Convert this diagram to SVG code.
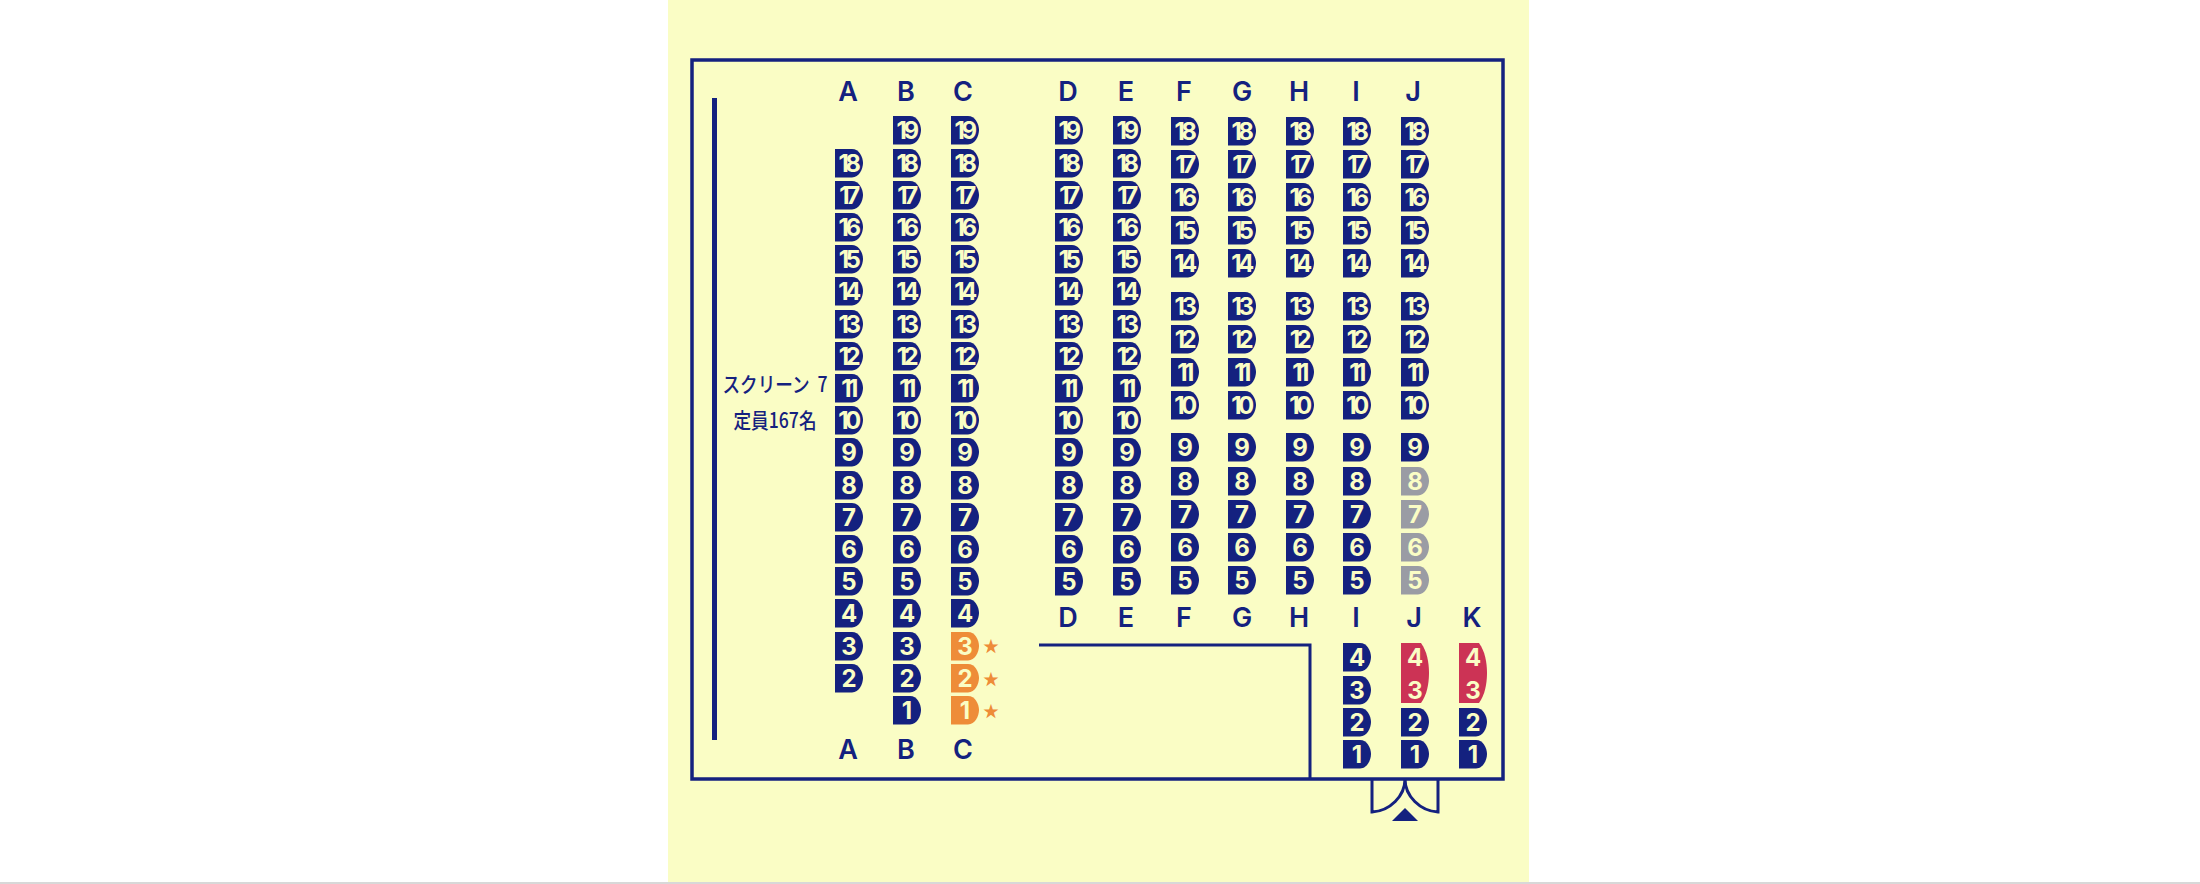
<svg xmlns="http://www.w3.org/2000/svg" xmlns:xlink="http://www.w3.org/1999/xlink" width="2200" height="884" viewBox="0 0 2200 884">
<style>
.l{font-family:"Inter","Liberation Sans",sans-serif;font-size:27px;font-weight:600;fill:#14217f;text-anchor:middle}
text.n{font-family:"Inter","Liberation Sans",sans-serif;font-size:24px;font-weight:700;fill:#fafdc5;text-anchor:middle}
text.d{letter-spacing:-3.5px}
.s{fill:#14217f}.o{fill:#ee8c38}.g{fill:#9a9ca4}.r{fill:#cc3355}
.t{font-family:"Noto Sans CJK JP",sans-serif;font-size:21px;font-weight:500;fill:#14217f;text-anchor:middle}
.st{font-family:"Noto Sans CJK JP",sans-serif;font-size:16px;fill:#ee8c38;text-anchor:middle}
.w{fill:none;stroke:#14217f;stroke-width:3}
</style>
<defs><path id="p" d="M0 0H17C24 0 28 8 28 14C28 20 24 28.500 17 28.500H0Z"/><path id="q" d="M0 0H20C26 8 28 20 28 30C28 40 26 52 20 60H0Z"/></defs>
<rect x="668" y="0" width="861" height="882" fill="#fafdc5"/>
<rect x="0" y="882" width="2200" height="2" fill="#d8d8d8"/>
<g id="room"><rect class="w" style="stroke-width:3.5" x="692" y="60" width="811" height="719"/><rect x="712" y="98" width="5" height="642" fill="#14217f"/>
<path class="w" d="M1039 645H1310V779"/>
<path class="w" d="M1372 779V812C1390 811 1405 796 1405 779C1405 796 1420 811 1438 812V779"/>
<polygon points="1405,808 1418,821 1392,821" fill="#14217f"/></g>
<g id="screen"><text class="t" transform="translate(775 392) scale(.84 1)" xml:space="preserve">スクリーン  7</text>
<text class="t" transform="translate(775 428) scale(.84 1)">定員167名</text></g>
<g id="labels">
<text class="l" x="848" y="101">A</text><text class="l" x="906" y="101">B</text><text class="l" x="963" y="101">C</text><text class="l" x="1068" y="101">D</text><text class="l" x="1126" y="101">E</text><text class="l" x="1184" y="101">F</text><text class="l" x="1242" y="101">G</text><text class="l" x="1299" y="101">H</text><text class="l" x="1356" y="101">I</text><text class="l" x="1413" y="101">J</text>
<text class="l" x="1068" y="627">D</text><text class="l" x="1126" y="627">E</text><text class="l" x="1184" y="627">F</text><text class="l" x="1242" y="627">G</text><text class="l" x="1299" y="627">H</text><text class="l" x="1356" y="627">I</text><text class="l" x="1414" y="627">J</text><text class="l" x="1472" y="627">K</text>
<text class="l" x="848" y="759">A</text><text class="l" x="906" y="759">B</text><text class="l" x="963" y="759">C</text>
</g>
<g id="stars"><text class="st" x="991" y="652">★</text><text class="st" x="991" y="685">★</text><text class="st" x="991" y="717">★</text></g>
<g id="colA">
<g id="A18" transform="translate(835 149)"><use href="#p" class="s"/><text class="n d" x="13" y="23">18</text></g>
<g id="A17" transform="translate(835 181)"><use href="#p" class="s"/><text class="n d" x="13" y="23">17</text></g>
<g id="A16" transform="translate(835 213)"><use href="#p" class="s"/><text class="n d" x="13" y="23">16</text></g>
<g id="A15" transform="translate(835 245)"><use href="#p" class="s"/><text class="n d" x="13" y="23">15</text></g>
<g id="A14" transform="translate(835 277)"><use href="#p" class="s"/><text class="n d" x="13" y="23">14</text></g>
<g id="A13" transform="translate(835 310)"><use href="#p" class="s"/><text class="n d" x="13" y="23">13</text></g>
<g id="A12" transform="translate(835 342)"><use href="#p" class="s"/><text class="n d" x="13" y="23">12</text></g>
<g id="A11" transform="translate(835 374)"><use href="#p" class="s"/><text class="n d" x="13" y="23">11</text></g>
<g id="A10" transform="translate(835 406)"><use href="#p" class="s"/><text class="n d" x="13" y="23">10</text></g>
<g id="A9" transform="translate(835 438)"><use href="#p" class="s"/><text class="n" x="14" y="23">9</text></g>
<g id="A8" transform="translate(835 471)"><use href="#p" class="s"/><text class="n" x="14" y="23">8</text></g>
<g id="A7" transform="translate(835 503)"><use href="#p" class="s"/><text class="n" x="14" y="23">7</text></g>
<g id="A6" transform="translate(835 535)"><use href="#p" class="s"/><text class="n" x="14" y="23">6</text></g>
<g id="A5" transform="translate(835 567)"><use href="#p" class="s"/><text class="n" x="14" y="23">5</text></g>
<g id="A4" transform="translate(835 599)"><use href="#p" class="s"/><text class="n" x="14" y="23">4</text></g>
<g id="A3" transform="translate(835 632)"><use href="#p" class="s"/><text class="n" x="14" y="23">3</text></g>
<g id="A2" transform="translate(835 664)"><use href="#p" class="s"/><text class="n" x="14" y="23">2</text></g>
</g>
<g id="colB">
<g id="B19" transform="translate(893 116)"><use href="#p" class="s"/><text class="n d" x="13" y="23">19</text></g>
<g id="B18" transform="translate(893 149)"><use href="#p" class="s"/><text class="n d" x="13" y="23">18</text></g>
<g id="B17" transform="translate(893 181)"><use href="#p" class="s"/><text class="n d" x="13" y="23">17</text></g>
<g id="B16" transform="translate(893 213)"><use href="#p" class="s"/><text class="n d" x="13" y="23">16</text></g>
<g id="B15" transform="translate(893 245)"><use href="#p" class="s"/><text class="n d" x="13" y="23">15</text></g>
<g id="B14" transform="translate(893 277)"><use href="#p" class="s"/><text class="n d" x="13" y="23">14</text></g>
<g id="B13" transform="translate(893 310)"><use href="#p" class="s"/><text class="n d" x="13" y="23">13</text></g>
<g id="B12" transform="translate(893 342)"><use href="#p" class="s"/><text class="n d" x="13" y="23">12</text></g>
<g id="B11" transform="translate(893 374)"><use href="#p" class="s"/><text class="n d" x="13" y="23">11</text></g>
<g id="B10" transform="translate(893 406)"><use href="#p" class="s"/><text class="n d" x="13" y="23">10</text></g>
<g id="B9" transform="translate(893 438)"><use href="#p" class="s"/><text class="n" x="14" y="23">9</text></g>
<g id="B8" transform="translate(893 471)"><use href="#p" class="s"/><text class="n" x="14" y="23">8</text></g>
<g id="B7" transform="translate(893 503)"><use href="#p" class="s"/><text class="n" x="14" y="23">7</text></g>
<g id="B6" transform="translate(893 535)"><use href="#p" class="s"/><text class="n" x="14" y="23">6</text></g>
<g id="B5" transform="translate(893 567)"><use href="#p" class="s"/><text class="n" x="14" y="23">5</text></g>
<g id="B4" transform="translate(893 599)"><use href="#p" class="s"/><text class="n" x="14" y="23">4</text></g>
<g id="B3" transform="translate(893 632)"><use href="#p" class="s"/><text class="n" x="14" y="23">3</text></g>
<g id="B2" transform="translate(893 664)"><use href="#p" class="s"/><text class="n" x="14" y="23">2</text></g>
<g id="B1" transform="translate(893 696)"><use href="#p" class="s"/><text class="n" x="14" y="23">1</text></g>
</g>
<g id="colC">
<g id="C19" transform="translate(951 116)"><use href="#p" class="s"/><text class="n d" x="13" y="23">19</text></g>
<g id="C18" transform="translate(951 149)"><use href="#p" class="s"/><text class="n d" x="13" y="23">18</text></g>
<g id="C17" transform="translate(951 181)"><use href="#p" class="s"/><text class="n d" x="13" y="23">17</text></g>
<g id="C16" transform="translate(951 213)"><use href="#p" class="s"/><text class="n d" x="13" y="23">16</text></g>
<g id="C15" transform="translate(951 245)"><use href="#p" class="s"/><text class="n d" x="13" y="23">15</text></g>
<g id="C14" transform="translate(951 277)"><use href="#p" class="s"/><text class="n d" x="13" y="23">14</text></g>
<g id="C13" transform="translate(951 310)"><use href="#p" class="s"/><text class="n d" x="13" y="23">13</text></g>
<g id="C12" transform="translate(951 342)"><use href="#p" class="s"/><text class="n d" x="13" y="23">12</text></g>
<g id="C11" transform="translate(951 374)"><use href="#p" class="s"/><text class="n d" x="13" y="23">11</text></g>
<g id="C10" transform="translate(951 406)"><use href="#p" class="s"/><text class="n d" x="13" y="23">10</text></g>
<g id="C9" transform="translate(951 438)"><use href="#p" class="s"/><text class="n" x="14" y="23">9</text></g>
<g id="C8" transform="translate(951 471)"><use href="#p" class="s"/><text class="n" x="14" y="23">8</text></g>
<g id="C7" transform="translate(951 503)"><use href="#p" class="s"/><text class="n" x="14" y="23">7</text></g>
<g id="C6" transform="translate(951 535)"><use href="#p" class="s"/><text class="n" x="14" y="23">6</text></g>
<g id="C5" transform="translate(951 567)"><use href="#p" class="s"/><text class="n" x="14" y="23">5</text></g>
<g id="C4" transform="translate(951 599)"><use href="#p" class="s"/><text class="n" x="14" y="23">4</text></g>
<g id="C3" transform="translate(951 632)"><use href="#p" class="o"/><text class="n" x="14" y="23">3</text></g>
<g id="C2" transform="translate(951 664)"><use href="#p" class="o"/><text class="n" x="14" y="23">2</text></g>
<g id="C1" transform="translate(951 696)"><use href="#p" class="o"/><text class="n" x="14" y="23">1</text></g>
</g>
<g id="colD">
<g id="D19" transform="translate(1055 116)"><use href="#p" class="s"/><text class="n d" x="13" y="23">19</text></g>
<g id="D18" transform="translate(1055 149)"><use href="#p" class="s"/><text class="n d" x="13" y="23">18</text></g>
<g id="D17" transform="translate(1055 181)"><use href="#p" class="s"/><text class="n d" x="13" y="23">17</text></g>
<g id="D16" transform="translate(1055 213)"><use href="#p" class="s"/><text class="n d" x="13" y="23">16</text></g>
<g id="D15" transform="translate(1055 245)"><use href="#p" class="s"/><text class="n d" x="13" y="23">15</text></g>
<g id="D14" transform="translate(1055 277)"><use href="#p" class="s"/><text class="n d" x="13" y="23">14</text></g>
<g id="D13" transform="translate(1055 310)"><use href="#p" class="s"/><text class="n d" x="13" y="23">13</text></g>
<g id="D12" transform="translate(1055 342)"><use href="#p" class="s"/><text class="n d" x="13" y="23">12</text></g>
<g id="D11" transform="translate(1055 374)"><use href="#p" class="s"/><text class="n d" x="13" y="23">11</text></g>
<g id="D10" transform="translate(1055 406)"><use href="#p" class="s"/><text class="n d" x="13" y="23">10</text></g>
<g id="D9" transform="translate(1055 438)"><use href="#p" class="s"/><text class="n" x="14" y="23">9</text></g>
<g id="D8" transform="translate(1055 471)"><use href="#p" class="s"/><text class="n" x="14" y="23">8</text></g>
<g id="D7" transform="translate(1055 503)"><use href="#p" class="s"/><text class="n" x="14" y="23">7</text></g>
<g id="D6" transform="translate(1055 535)"><use href="#p" class="s"/><text class="n" x="14" y="23">6</text></g>
<g id="D5" transform="translate(1055 567)"><use href="#p" class="s"/><text class="n" x="14" y="23">5</text></g>
</g>
<g id="colE">
<g id="E19" transform="translate(1113 116)"><use href="#p" class="s"/><text class="n d" x="13" y="23">19</text></g>
<g id="E18" transform="translate(1113 149)"><use href="#p" class="s"/><text class="n d" x="13" y="23">18</text></g>
<g id="E17" transform="translate(1113 181)"><use href="#p" class="s"/><text class="n d" x="13" y="23">17</text></g>
<g id="E16" transform="translate(1113 213)"><use href="#p" class="s"/><text class="n d" x="13" y="23">16</text></g>
<g id="E15" transform="translate(1113 245)"><use href="#p" class="s"/><text class="n d" x="13" y="23">15</text></g>
<g id="E14" transform="translate(1113 277)"><use href="#p" class="s"/><text class="n d" x="13" y="23">14</text></g>
<g id="E13" transform="translate(1113 310)"><use href="#p" class="s"/><text class="n d" x="13" y="23">13</text></g>
<g id="E12" transform="translate(1113 342)"><use href="#p" class="s"/><text class="n d" x="13" y="23">12</text></g>
<g id="E11" transform="translate(1113 374)"><use href="#p" class="s"/><text class="n d" x="13" y="23">11</text></g>
<g id="E10" transform="translate(1113 406)"><use href="#p" class="s"/><text class="n d" x="13" y="23">10</text></g>
<g id="E9" transform="translate(1113 438)"><use href="#p" class="s"/><text class="n" x="14" y="23">9</text></g>
<g id="E8" transform="translate(1113 471)"><use href="#p" class="s"/><text class="n" x="14" y="23">8</text></g>
<g id="E7" transform="translate(1113 503)"><use href="#p" class="s"/><text class="n" x="14" y="23">7</text></g>
<g id="E6" transform="translate(1113 535)"><use href="#p" class="s"/><text class="n" x="14" y="23">6</text></g>
<g id="E5" transform="translate(1113 567)"><use href="#p" class="s"/><text class="n" x="14" y="23">5</text></g>
</g>
<g id="colF">
<g id="F18" transform="translate(1171 117)"><use href="#p" class="s"/><text class="n d" x="13" y="23">18</text></g>
<g id="F17" transform="translate(1171 150)"><use href="#p" class="s"/><text class="n d" x="13" y="23">17</text></g>
<g id="F16" transform="translate(1171 183)"><use href="#p" class="s"/><text class="n d" x="13" y="23">16</text></g>
<g id="F15" transform="translate(1171 216)"><use href="#p" class="s"/><text class="n d" x="13" y="23">15</text></g>
<g id="F14" transform="translate(1171 249)"><use href="#p" class="s"/><text class="n d" x="13" y="23">14</text></g>
<g id="F13" transform="translate(1171 292)"><use href="#p" class="s"/><text class="n d" x="13" y="23">13</text></g>
<g id="F12" transform="translate(1171 325)"><use href="#p" class="s"/><text class="n d" x="13" y="23">12</text></g>
<g id="F11" transform="translate(1171 358)"><use href="#p" class="s"/><text class="n d" x="13" y="23">11</text></g>
<g id="F10" transform="translate(1171 391)"><use href="#p" class="s"/><text class="n d" x="13" y="23">10</text></g>
<g id="F9" transform="translate(1171 433)"><use href="#p" class="s"/><text class="n" x="14" y="23">9</text></g>
<g id="F8" transform="translate(1171 467)"><use href="#p" class="s"/><text class="n" x="14" y="23">8</text></g>
<g id="F7" transform="translate(1171 500)"><use href="#p" class="s"/><text class="n" x="14" y="23">7</text></g>
<g id="F6" transform="translate(1171 533)"><use href="#p" class="s"/><text class="n" x="14" y="23">6</text></g>
<g id="F5" transform="translate(1171 566)"><use href="#p" class="s"/><text class="n" x="14" y="23">5</text></g>
</g>
<g id="colG">
<g id="G18" transform="translate(1228 117)"><use href="#p" class="s"/><text class="n d" x="13" y="23">18</text></g>
<g id="G17" transform="translate(1228 150)"><use href="#p" class="s"/><text class="n d" x="13" y="23">17</text></g>
<g id="G16" transform="translate(1228 183)"><use href="#p" class="s"/><text class="n d" x="13" y="23">16</text></g>
<g id="G15" transform="translate(1228 216)"><use href="#p" class="s"/><text class="n d" x="13" y="23">15</text></g>
<g id="G14" transform="translate(1228 249)"><use href="#p" class="s"/><text class="n d" x="13" y="23">14</text></g>
<g id="G13" transform="translate(1228 292)"><use href="#p" class="s"/><text class="n d" x="13" y="23">13</text></g>
<g id="G12" transform="translate(1228 325)"><use href="#p" class="s"/><text class="n d" x="13" y="23">12</text></g>
<g id="G11" transform="translate(1228 358)"><use href="#p" class="s"/><text class="n d" x="13" y="23">11</text></g>
<g id="G10" transform="translate(1228 391)"><use href="#p" class="s"/><text class="n d" x="13" y="23">10</text></g>
<g id="G9" transform="translate(1228 433)"><use href="#p" class="s"/><text class="n" x="14" y="23">9</text></g>
<g id="G8" transform="translate(1228 467)"><use href="#p" class="s"/><text class="n" x="14" y="23">8</text></g>
<g id="G7" transform="translate(1228 500)"><use href="#p" class="s"/><text class="n" x="14" y="23">7</text></g>
<g id="G6" transform="translate(1228 533)"><use href="#p" class="s"/><text class="n" x="14" y="23">6</text></g>
<g id="G5" transform="translate(1228 566)"><use href="#p" class="s"/><text class="n" x="14" y="23">5</text></g>
</g>
<g id="colH">
<g id="H18" transform="translate(1286 117)"><use href="#p" class="s"/><text class="n d" x="13" y="23">18</text></g>
<g id="H17" transform="translate(1286 150)"><use href="#p" class="s"/><text class="n d" x="13" y="23">17</text></g>
<g id="H16" transform="translate(1286 183)"><use href="#p" class="s"/><text class="n d" x="13" y="23">16</text></g>
<g id="H15" transform="translate(1286 216)"><use href="#p" class="s"/><text class="n d" x="13" y="23">15</text></g>
<g id="H14" transform="translate(1286 249)"><use href="#p" class="s"/><text class="n d" x="13" y="23">14</text></g>
<g id="H13" transform="translate(1286 292)"><use href="#p" class="s"/><text class="n d" x="13" y="23">13</text></g>
<g id="H12" transform="translate(1286 325)"><use href="#p" class="s"/><text class="n d" x="13" y="23">12</text></g>
<g id="H11" transform="translate(1286 358)"><use href="#p" class="s"/><text class="n d" x="13" y="23">11</text></g>
<g id="H10" transform="translate(1286 391)"><use href="#p" class="s"/><text class="n d" x="13" y="23">10</text></g>
<g id="H9" transform="translate(1286 433)"><use href="#p" class="s"/><text class="n" x="14" y="23">9</text></g>
<g id="H8" transform="translate(1286 467)"><use href="#p" class="s"/><text class="n" x="14" y="23">8</text></g>
<g id="H7" transform="translate(1286 500)"><use href="#p" class="s"/><text class="n" x="14" y="23">7</text></g>
<g id="H6" transform="translate(1286 533)"><use href="#p" class="s"/><text class="n" x="14" y="23">6</text></g>
<g id="H5" transform="translate(1286 566)"><use href="#p" class="s"/><text class="n" x="14" y="23">5</text></g>
</g>
<g id="colI">
<g id="I18" transform="translate(1343 117)"><use href="#p" class="s"/><text class="n d" x="13" y="23">18</text></g>
<g id="I17" transform="translate(1343 150)"><use href="#p" class="s"/><text class="n d" x="13" y="23">17</text></g>
<g id="I16" transform="translate(1343 183)"><use href="#p" class="s"/><text class="n d" x="13" y="23">16</text></g>
<g id="I15" transform="translate(1343 216)"><use href="#p" class="s"/><text class="n d" x="13" y="23">15</text></g>
<g id="I14" transform="translate(1343 249)"><use href="#p" class="s"/><text class="n d" x="13" y="23">14</text></g>
<g id="I13" transform="translate(1343 292)"><use href="#p" class="s"/><text class="n d" x="13" y="23">13</text></g>
<g id="I12" transform="translate(1343 325)"><use href="#p" class="s"/><text class="n d" x="13" y="23">12</text></g>
<g id="I11" transform="translate(1343 358)"><use href="#p" class="s"/><text class="n d" x="13" y="23">11</text></g>
<g id="I10" transform="translate(1343 391)"><use href="#p" class="s"/><text class="n d" x="13" y="23">10</text></g>
<g id="I9" transform="translate(1343 433)"><use href="#p" class="s"/><text class="n" x="14" y="23">9</text></g>
<g id="I8" transform="translate(1343 467)"><use href="#p" class="s"/><text class="n" x="14" y="23">8</text></g>
<g id="I7" transform="translate(1343 500)"><use href="#p" class="s"/><text class="n" x="14" y="23">7</text></g>
<g id="I6" transform="translate(1343 533)"><use href="#p" class="s"/><text class="n" x="14" y="23">6</text></g>
<g id="I5" transform="translate(1343 566)"><use href="#p" class="s"/><text class="n" x="14" y="23">5</text></g>
<g id="I4" transform="translate(1343 643)"><use href="#p" class="s"/><text class="n" x="14" y="23">4</text></g>
<g id="I3" transform="translate(1343 676)"><use href="#p" class="s"/><text class="n" x="14" y="23">3</text></g>
<g id="I2" transform="translate(1343 708)"><use href="#p" class="s"/><text class="n" x="14" y="23">2</text></g>
<g id="I1" transform="translate(1343 740)"><use href="#p" class="s"/><text class="n" x="14" y="23">1</text></g>
</g>
<g id="colJ">
<g id="J18" transform="translate(1401 117)"><use href="#p" class="s"/><text class="n d" x="13" y="23">18</text></g>
<g id="J17" transform="translate(1401 150)"><use href="#p" class="s"/><text class="n d" x="13" y="23">17</text></g>
<g id="J16" transform="translate(1401 183)"><use href="#p" class="s"/><text class="n d" x="13" y="23">16</text></g>
<g id="J15" transform="translate(1401 216)"><use href="#p" class="s"/><text class="n d" x="13" y="23">15</text></g>
<g id="J14" transform="translate(1401 249)"><use href="#p" class="s"/><text class="n d" x="13" y="23">14</text></g>
<g id="J13" transform="translate(1401 292)"><use href="#p" class="s"/><text class="n d" x="13" y="23">13</text></g>
<g id="J12" transform="translate(1401 325)"><use href="#p" class="s"/><text class="n d" x="13" y="23">12</text></g>
<g id="J11" transform="translate(1401 358)"><use href="#p" class="s"/><text class="n d" x="13" y="23">11</text></g>
<g id="J10" transform="translate(1401 391)"><use href="#p" class="s"/><text class="n d" x="13" y="23">10</text></g>
<g id="J9" transform="translate(1401 433)"><use href="#p" class="s"/><text class="n" x="14" y="23">9</text></g>
<g id="J8" transform="translate(1401 467)"><use href="#p" class="g"/><text class="n" x="14" y="23">8</text></g>
<g id="J7" transform="translate(1401 500)"><use href="#p" class="g"/><text class="n" x="14" y="23">7</text></g>
<g id="J6" transform="translate(1401 533)"><use href="#p" class="g"/><text class="n" x="14" y="23">6</text></g>
<g id="J5" transform="translate(1401 566)"><use href="#p" class="g"/><text class="n" x="14" y="23">5</text></g>
<g id="J4-3" transform="translate(1401 643)"><use href="#q" class="r"/><text class="n" x="14" y="23">4</text><text class="n" x="14" y="56">3</text></g>
<g id="J2" transform="translate(1401 708)"><use href="#p" class="s"/><text class="n" x="14" y="23">2</text></g>
<g id="J1" transform="translate(1401 740)"><use href="#p" class="s"/><text class="n" x="14" y="23">1</text></g>
</g>
<g id="colK">
<g id="K4-3" transform="translate(1459 643)"><use href="#q" class="r"/><text class="n" x="14" y="23">4</text><text class="n" x="14" y="56">3</text></g>
<g id="K2" transform="translate(1459 708)"><use href="#p" class="s"/><text class="n" x="14" y="23">2</text></g>
<g id="K1" transform="translate(1459 740)"><use href="#p" class="s"/><text class="n" x="14" y="23">1</text></g>
</g>
</svg>
